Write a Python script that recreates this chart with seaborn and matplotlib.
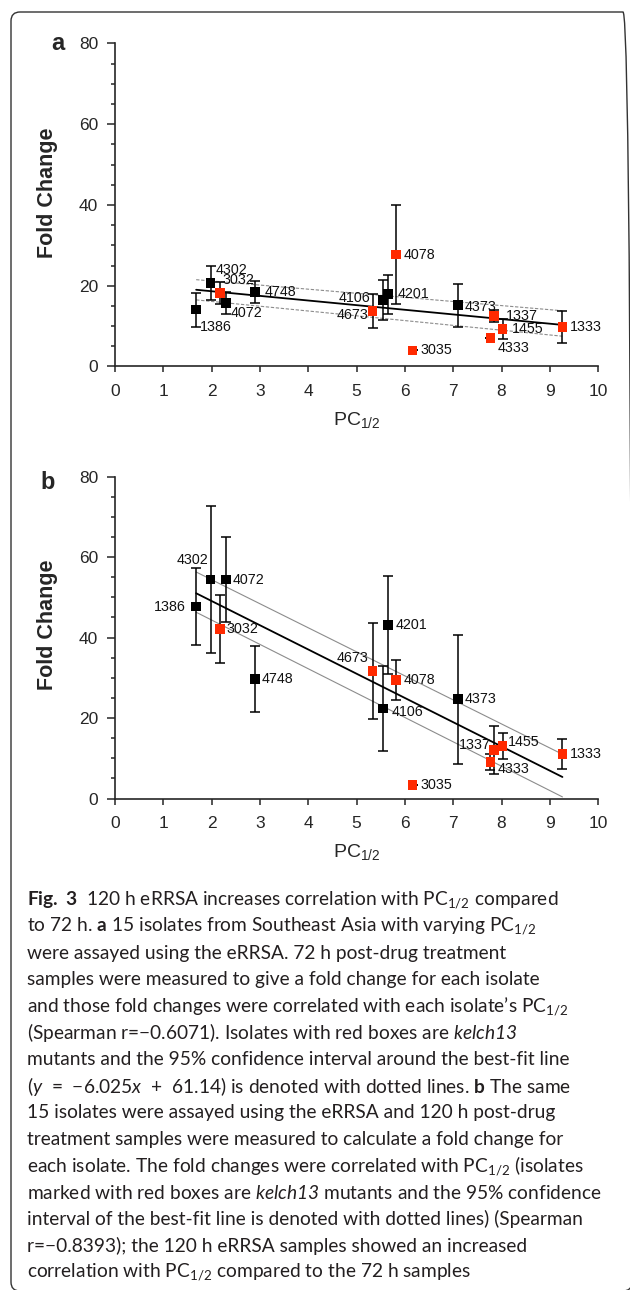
"""
Fig. 3 - fold change vs PC1/2 at 72 h (a) and 120 h (b) eRRSA
"""

import numpy as np
import pandas as pd
import seaborn as sns
import matplotlib.pyplot as plt
from matplotlib.patches import FancyBboxPatch
from matplotlib.ticker import MultipleLocator

# ── data ──────────────────────────────────────────────────────────────────────
isolates = ["1386", "4302", "3032", "4072", "4748", "4673", "4106", "4201",
            "4078", "3035", "4373", "4333", "1337", "1455", "1333"]
pc_half = [1.68, 1.98, 2.17, 2.30, 2.90, 5.33, 5.55, 5.65,
           5.81, 6.16, 7.10, 7.77, 7.84, 8.02, 9.26]
kelch13 = [False, False, True, False, False, True, False, False,
           True, True, False, True, True, True, True]

fold_72h = [14.1, 20.7, 18.2, 15.7, 18.5, 13.7, 16.5, 17.9,
            27.7, 4.0, 15.2, 7.0, 12.5, 9.3, 9.8]
sd_72h = [4.2, 4.2, 2.8, 2.8, 2.7, 4.2, 5.0, 4.8,
          12.2, 0.0, 5.3, 0.0, 1.5, 2.4, 4.0]

fold_120h = [47.7, 54.4, 42.1, 54.4, 29.7, 31.7, 22.4, 43.2,
             29.5, 3.3, 24.7, 9.1, 12.1, 13.1, 11.1]
sd_120h = [9.5, 18.3, 8.5, 10.5, 8.1, 11.9, 10.6, 12.2,
           5.0, 0.0, 16.0, 2.0, 6.0, 3.3, 3.7]

# best-fit line and 95% CI lines as (slope, intercept)
fit_72h = (-1.148, 20.93)
ci_hi_72h = (-1.016, 23.21)
ci_lo_72h = (-1.187, 18.49)
fit_120h = (-6.025, 61.14)
ci_hi_120h = (-5.976, 66.34)
ci_lo_120h = (-6.055, 56.47)

# \mathsf is mapped to Lato italic below, so the digits of kelch13 slant too
caption_lines = [
    r"$\mathbf{Fig.\ 3}$  120 h eRRSA increases correlation with PC$_{\mathregular{1/2}}$ compared",
    r"to 72 h. $\mathbf{a}$ 15 isolates from Southeast Asia with varying PC$_{\mathregular{1/2}}$",
    "were assayed using the eRRSA. 72 h post-drug treatment",
    "samples were measured to give a fold change for each isolate",
    r"and those fold changes were correlated with each isolate’s PC$_{\mathregular{1/2}}$",
    r"(Spearman r=−0.6071). Isolates with red boxes are $\mathsf{kelch13}$",
    "mutants and the 95% confidence interval around the best-fit line",
    r"($\mathsf{y}$  =  −6.025$\mathsf{x}$  +  61.14) is denoted with dotted lines. $\mathbf{b}$ The same",
    "15 isolates were assayed using the eRRSA and 120 h post-drug",
    "treatment samples were measured to calculate a fold change for",
    r"each isolate. The fold changes were correlated with PC$_{\mathregular{1/2}}$ (isolates",
    r"marked with red boxes are $\mathsf{kelch13}$ mutants and the 95% confidence",
    "interval of the best-fit line is denoted with dotted lines) (Spearman",
    "r=−0.8393); the 120 h eRRSA samples showed an increased",
    r"correlation with PC$_{\mathregular{1/2}}$ compared to the 72 h samples",
]

# label placement (offset in points, alignment)
labels_72h = {
    "1386": (2.4, -12.2, "left"), "4302": (3.6, 9.1, "left"),
    "3032": (1.9, 9.1, "left"), "4072": (3.6, -7.4, "left"),
    "4748": (7.2, 0, "left"), "4673": (-3.1, -2.4, "right"),
    "4106": (-9.1, 1.7, "right"), "4201": (6.7, 0, "left"),
    "4078": (5.8, 0, "left"), "3035": (5.8, 0, "left"),
    "4373": (5.0, -1.2, "left"), "4333": (5.0, -7.2, "left"),
    "1337": (8.6, 0, "left"), "1455": (6.5, 0, "left"),
    "1333": (5.5, 0, "left"),
}
labels_120h = {
    "1386": (-7.2, 0, "right"), "4302": (-1.4, 14.4, "right"),
    "3032": (5.0, 0, "left"), "4072": (5.0, 0, "left"),
    "4748": (5.0, 0, "left"), "4673": (-3.2, 9.1, "right"),
    "4106": (5.8, -2.7, "left"), "4201": (5.5, 0, "left"),
    "4078": (5.8, 0, "left"), "3035": (5.8, 0, "left"),
    "4373": (5.0, 0, "left"), "4333": (5.5, -4.8, "left"),
    "1337": (-2.4, 3.8, "right"), "1455": (4.0, 2.4, "left"),
    "1333": (5.5, 0, "left"),
}

RED = "#ff2a00"

sns.set_style("ticks")
plt.rcParams['font.family'] = ['Liberation Sans', 'DejaVu Sans']
plt.rcParams['mathtext.fontset'] = 'custom'
plt.rcParams['mathtext.rm'] = 'Lato'
plt.rcParams['mathtext.it'] = 'Lato:italic'
plt.rcParams['mathtext.sf'] = 'Lato:italic'
plt.rcParams['mathtext.bf'] = 'Lato:bold'


def draw_panel(ax, fold, sd, fit, ci_hi, ci_lo, ci_style, label_pos):
    df = pd.DataFrame({"isolate": isolates, "pc": pc_half, "fold": fold,
                       "sd": sd, "k13": kelch13})

    ax.errorbar(df["pc"], df["fold"], yerr=df["sd"], fmt="none", ecolor="black",
                elinewidth=1.1, capsize=3.6, capthick=1.1, zorder=2)

    xs = np.array([df["pc"].min(), df["pc"].max()])
    for slope, icpt in (ci_hi, ci_lo):
        ax.plot(xs, slope * xs + icpt, zorder=1, **ci_style)
    ax.plot(xs, fit[0] * xs + fit[1], color="black", lw=1.3, zorder=1)

    sns.scatterplot(data=df, x="pc", y="fold", hue="k13",
                    palette={False: "black", True: RED}, marker="s", s=48,
                    linewidth=0, legend=False, ax=ax, zorder=3)

    for name, x, y in zip(df["isolate"], df["pc"], df["fold"]):
        dx, dy, ha = label_pos[name]
        ax.annotate(name, (x, y), xytext=(dx, dy), textcoords="offset points",
                    ha=ha, va="center", fontsize=10.3, color="#111111")

    ax.set_xlim(0, 10)
    ax.set_ylim(0, 80)
    ax.set_xticks(range(0, 11))
    ax.set_yticks(range(0, 81, 20))
    ax.yaxis.set_minor_locator(MultipleLocator(5))
    ax.tick_params(axis="y", which="major", length=6, width=1.1, pad=6, labelsize=12.5)
    ax.tick_params(axis="y", which="minor", length=3, width=1.1)
    ax.tick_params(axis="x", which="major", length=4.5, width=1.1, pad=8, labelsize=12.5)
    for s in ("left", "bottom"):
        ax.spines[s].set_linewidth(1.2)
    sns.despine(ax=ax)

    ax.set_xlabel(r"PC$_{\mathregular{1/2}}$", fontsize=14)
    ax.set_ylabel("Fold Change", fontsize=15.5, fontweight="bold")
    ax.xaxis.set_label_coords(0.5, -0.135)
    ax.yaxis.set_label_coords(-0.118, 0.539)


fig = plt.figure(figsize=(6.3, 12.9), dpi=100)
ax_a = fig.add_axes([0.1825, 0.7159, 0.767, 0.2504])
ax_b = fig.add_axes([0.1825, 0.3810, 0.767, 0.2495])

draw_panel(ax_a, fold_72h, sd_72h, fit_72h, ci_hi_72h, ci_lo_72h,
           dict(color="#8c8c8c", lw=0.8, ls=(0, (3, 1.5))), labels_72h)
draw_panel(ax_b, fold_120h, sd_120h, fit_120h, ci_hi_120h, ci_lo_120h,
           dict(color="#8c8c8c", lw=0.8, ls="-"), labels_120h)

W, H = 630, 1290
fig.text(58 / W, 1 - 50 / H, "a", fontsize=17, fontweight="bold", ha="center", va="baseline")
fig.text(48 / W, 1 - 489 / H, "b", fontsize=17, fontweight="bold", ha="center", va="baseline")

y0, step = 900, 26.6
for i, line in enumerate(caption_lines):
    fig.text(27 / W, 1 - (y0 + i * step) / H, line, family=["Lato", "DejaVu Sans"],
             fontsize=13.8, color="#231f20", ha="left", va="center")

frame = FancyBboxPatch((11, -1), 621, 1279, boxstyle="round,pad=0,rounding_size=9",
                       transform=None, fill=False, edgecolor="#333333", lw=1.0)
fig.add_artist(frame)

fig.savefig("out.png", dpi=100)
